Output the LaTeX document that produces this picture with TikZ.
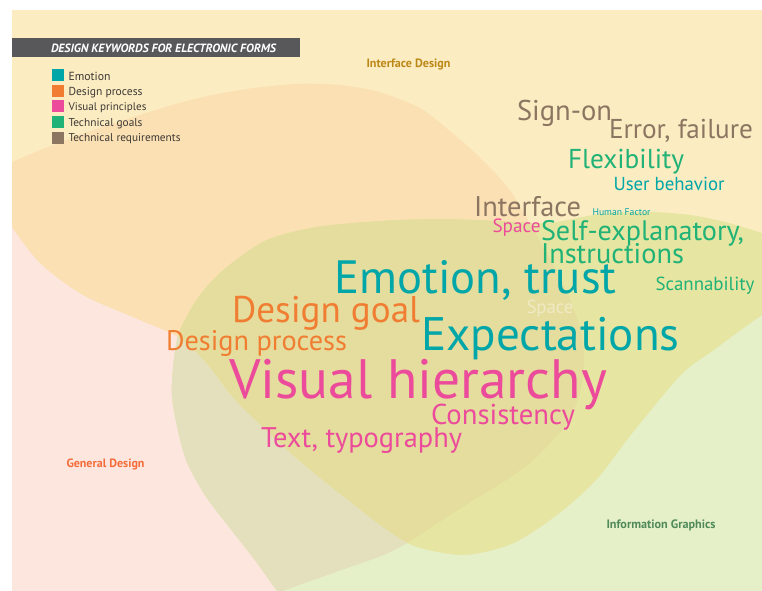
\documentclass[tikz,border=0pt]{standalone}
\usepackage{fontspec}
\setmainfont{PT Sans}
\usepackage{graphicx}
\newlength\pxu
\setlength\pxu{0.75pt}
\newcommand{\fitw}[2]{\resizebox{#1\pxu}{!}{#2}}
% region colours
\definecolor{rY}{RGB}{251,236,193}
\definecolor{rO}{RGB}{251,224,180}
\definecolor{rP}{RGB}{252,230,222}
\definecolor{rG}{RGB}{229,239,200}
\definecolor{rLO}{RGB}{230,229,161}
\definecolor{rDO}{RGB}{229,221,157}
\definecolor{rB}{RGB}{228,223,189}
% text colours
\definecolor{kTeal}{RGB}{0,166,168}
\definecolor{kOrange}{RGB}{240,125,50}
\definecolor{kPink}{RGB}{236,75,155}
\definecolor{kGreen}{RGB}{32,178,118}
\definecolor{kBrown}{RGB}{140,118,98}
\definecolor{kBar}{RGB}{88,88,90}
\definecolor{kLegText}{RGB}{60,56,52}
\definecolor{kIface}{RGB}{188,136,24}
\definecolor{kGeneral}{RGB}{244,108,58}
\definecolor{kInfo}{RGB}{80,138,88}
\definecolor{kFaint}{RGB}{240,234,196}
% boundary curves
\newcommand{\ybound}{-- plot[smooth] coordinates {(12,227) (40,263) (83,295) (140,320) (178,337) (205,362) (233,398) (260,425) (290,453) (317,476) (350,502) (381,526) (414,546) (464,555) (514,543) (561,512) (598,478) (631,435) (681,375) (714,350) (748,325) (775,306)}}
\newcommand{\Ypath}{(0,0) -- (0,227) \ybound -- (790,306) -- (790,0) -- cycle}
\newcommand{\notYpath}{(0,227) \ybound -- (790,306) -- (790,600) -- (0,600) -- cycle}
\newcommand{\Ppath}{(0,165) -- plot[smooth] coordinates {(12,162) (79,135) (179,103) (240,90) (295,84) (340,85) (379,92) (420,108) (445,127) (472,150) (495,173) (512,193) (528,220) (542,245) (556,270) (568,295) (580,328) (584,360) (580,392) (568,422) (550,443) (531,462) (500,484) (464,506) (430,528) (405,544) (381,556) (330,574) (280,592) (260,600)} -- (0,600) -- cycle}
\newcommand{\Gpath}{(290,605) -- plot[smooth] coordinates {(290,605) (278,592) (255,560) (230,528) (205,495) (187,462) (178,430) (172,395) (174,360) (180,330) (200,295) (227,267) (267,240) (317,227) (381,221) (440,219) (500,221) (548,223) (600,214) (650,212) (690,215) (725,222) (762,233) (785,242)} -- (790,605) -- cycle}
\newcommand{\panel}{(12,10) rectangle (762,590)}
\begin{document}
\begin{tikzpicture}[x=0.75pt,y=-0.75pt,
  word/.style={inner sep=0pt,outer sep=0pt,anchor=base west},
  legsq/.style={inner sep=0pt,minimum width=12*0.75pt,minimum height=12*0.75pt,anchor=north west}]
\useasboundingbox (0,0) rectangle (762,590);
\fill[white] (0,0) rectangle (762,590);
\begin{scope}
  \clip \panel;
  \fill[rY] \panel;
  \fill[rP] \notYpath;
  \begin{scope}
    \clip \Ppath;
    \fill[rO] \Ypath;
  \end{scope}
  \begin{scope}
    \clip \Gpath;
    \fill[rLO] \panel;
    \begin{scope}
      \clip \Ppath;
      \fill[rDO] \panel;
    \end{scope}
    \fill[rG] \notYpath;
    \begin{scope}
      \clip \Ppath;
      \fill[rB] \notYpath;
    \end{scope}
  \end{scope}
\end{scope}
% legend
\fill[kBar] (12,38) rectangle (300,57);
\node[word,text=white] (legtitle) at (51,52) {\fitw{225}{\bfseries\itshape DESIGN KEYWORDS FOR ELECTRONIC FORMS}};
\node[legsq,fill=kTeal]   (sq1) at (52,69) {};
\node[legsq,fill=kOrange] (sq2) at (52,85) {};
\node[legsq,fill=kPink]   (sq3) at (52,100) {};
\node[legsq,fill=kGreen]  (sq4) at (52,116) {};
\node[legsq,fill=kBrown]  (sq5) at (52,132) {};
\node[word,text=kLegText] (lt1) at (68.5,80) {\fitw{42}{Emotion}};
\node[word,text=kLegText] (lt2) at (68.5,95) {\fitw{74}{Design process}};
\node[word,text=kLegText] (lt3) at (68.5,110) {\fitw{78}{Visual principles}};
\node[word,text=kLegText] (lt4) at (68.5,126) {\fitw{74}{Technical goals}};
\node[word,text=kLegText] (lt5) at (68.5,141) {\fitw{112}{Technical requirements}};
% region labels
\node[word,text=kIface]   (lblIface)   at (366.5,67) {\fitw{84}{\bfseries Interface Design}};
\node[word,text=kGeneral] (lblGeneral) at (66.5,467) {\fitw{78}{\bfseries General Design}};
\node[word,text=kInfo]    (lblInfo)    at (606.5,528) {\fitw{109}{\bfseries Information Graphics}};
% keywords
\node[word,text=kBrown]  (signon)   at (517,120) {\fitw{95}{Sign-on}};
\node[word,text=kBrown]  (error)    at (609,138) {\fitw{144}{Error, failure}};
\node[word,text=kGreen]  (flex)     at (568,168) {\fitw{116}{Flexibility}};
\node[word,text=kTeal]   (userbeh)  at (613.5,190) {\fitw{111}{User behavior}};
\node[word,text=kBrown]  (iface)    at (474,216) {\fitw{107}{Interface}};
\node[word,text=kTeal]   (human)    at (592.5,215) {\fitw{58}{Human Factor}};
\node[word,text=kPink]   (space1)   at (492.5,232) {\fitw{48}{Space}};
\node[word,text=kGreen]  (selfexp)  at (541,240) {\fitw{203}{Self-explanatory,}};
\node[word,text=kGreen]  (instr)    at (541,263) {\fitw{143}{Instructions}};
\node[word,text=kTeal]   (emotion)  at (334.5,293) {\fitw{282}{Emotion, trust}};
\node[word,text=kGreen]  (scan)     at (655.5,290) {\fitw{99}{Scannability}};
\node[word,text=kFaint]  (space2)   at (526.5,313) {\fitw{47}{Space}};
\node[word,text=kOrange] (dgoal)    at (232,322) {\fitw{188}{Design goal}};
\node[word,text=kTeal]   (expect)   at (421.5,350) {\fitw{258}{Expectations}};
\node[word,text=kOrange] (dproc)    at (166,350) {\fitw{181}{Design process}};
\node[word,text=kPink]   (visual)   at (229,398) {\fitw{378}{Visual hierarchy}};
\node[word,text=kPink]   (consist)  at (431,424) {\fitw{144}{Consistency}};
\node[word,text=kPink]   (texttyp)  at (261,447) {\fitw{201}{Text, typography}};
\end{tikzpicture}
\end{document}
